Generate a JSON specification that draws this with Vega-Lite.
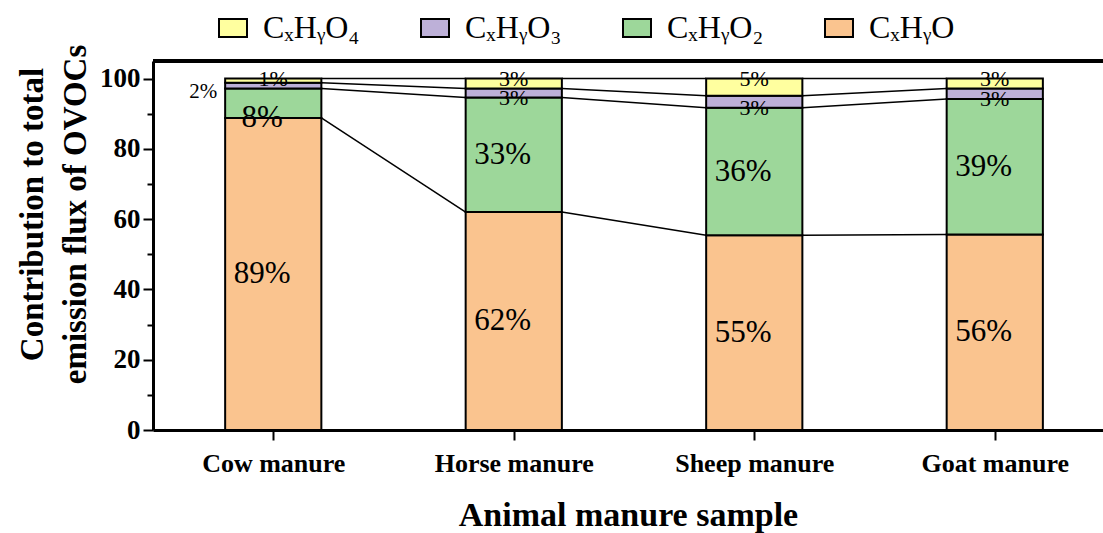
{
  "$schema": "https://vega.github.io/schema/vega-lite/v6.json",
  "width": 950,
  "height": 369,
  "autosize": {"type": "none"},
  "padding": {"left": 153, "top": 61, "right": 0, "bottom": 103},
  "background": "white",
  "config": {"view": {"stroke": null}, "font": "Liberation Serif"},
  "data": {
    "values": [
      {"sample": "Cow manure", "type": "CxHyO", "value": 88.8},
      {"sample": "Cow manure", "type": "CxHyO2", "value": 8.4},
      {"sample": "Cow manure", "type": "CxHyO3", "value": 1.6},
      {"sample": "Cow manure", "type": "CxHyO4", "value": 1.2},
      {"sample": "Horse manure", "type": "CxHyO", "value": 62.0},
      {"sample": "Horse manure", "type": "CxHyO2", "value": 32.6},
      {"sample": "Horse manure", "type": "CxHyO3", "value": 2.6},
      {"sample": "Horse manure", "type": "CxHyO4", "value": 2.8},
      {"sample": "Sheep manure", "type": "CxHyO", "value": 55.4},
      {"sample": "Sheep manure", "type": "CxHyO2", "value": 36.3},
      {"sample": "Sheep manure", "type": "CxHyO3", "value": 3.4},
      {"sample": "Sheep manure", "type": "CxHyO4", "value": 4.9},
      {"sample": "Goat manure", "type": "CxHyO", "value": 55.6},
      {"sample": "Goat manure", "type": "CxHyO2", "value": 38.6},
      {"sample": "Goat manure", "type": "CxHyO3", "value": 3.0},
      {"sample": "Goat manure", "type": "CxHyO4", "value": 2.8}
    ]
  },
  "transform": [
    {"calculate": "indexof(['Cow manure','Horse manure','Sheep manure','Goat manure'], datum.sample) + 1", "as": "pos"},
    {"calculate": "indexof(['CxHyO','CxHyO2','CxHyO3','CxHyO4'], datum.type)", "as": "order"},
    {"stack": "value", "groupby": ["sample"], "sort": [{"field": "order", "order": "ascending"}], "as": ["y0", "y1"]},
    {"calculate": "datum.pos - 0.2", "as": "xl"},
    {"calculate": "datum.pos + 0.2", "as": "xr"}
  ],
  "resolve": {"axis": {"y": "independent"}},
  "layer": [
    {
      "mark": {"type": "bar", "stroke": "black", "strokeWidth": 2},
      "encoding": {
        "x": {
          "field": "xl", "type": "quantitative",
          "scale": {"domain": [0.5, 4.45], "nice": false, "zero": false},
          "axis": {
            "values": [1, 2, 3, 4],
            "labelExpr": "['','Cow manure','Horse manure','Sheep manure','Goat manure'][datum.value]",
            "grid": false,
            "domainColor": "black", "domainWidth": 3,
            "tickColor": "black", "tickWidth": 2, "tickSize": 10,
            "labelFont": "Liberation Serif", "labelFontWeight": "bold", "labelFontSize": 26, "labelColor": "black",
            "labelPadding": 10,
            "title": "Animal manure sample",
            "titleFont": "Liberation Serif", "titleFontWeight": "bold", "titleFontSize": 34, "titleColor": "black",
            "titlePadding": 22
          }
        },
        "x2": {"field": "xr"},
        "y": {
          "field": "y0", "type": "quantitative",
          "scale": {"domain": [0, 105], "nice": false},
          "axis": {
            "orient": "left",
            "values": [0, 20, 40, 60, 80, 100],
            "grid": false,
            "domainColor": "black", "domainWidth": 3,
            "tickColor": "black", "tickWidth": 2, "tickSize": 10,
            "labelFont": "Liberation Serif", "labelFontWeight": "bold", "labelFontSize": 27, "labelColor": "black",
            "labelPadding": 3,
            "title": ["Contribution to total", "emission flux of OVOCs"],
            "titleFont": "Liberation Serif", "titleFontWeight": "bold", "titleFontSize": 33, "titleColor": "black",
            "titleLineHeight": 43,
            "titleAngle": -90,
            "titleAlign": "center",
            "titleBaseline": "middle",
            "titleX": -121,
            "titleY": 153
          }
        },
        "y2": {"field": "y1"},
        "color": {
          "field": "type", "type": "nominal",
          "scale": {
            "domain": ["CxHyO4", "CxHyO3", "CxHyO2", "CxHyO"],
            "range": ["#FFFF9F", "#BDB0D8", "#9DD79A", "#FAC48F"]
          },
          "legend": {
            "title": null,
            "orient": "none",
            "direction": "horizontal",
            "legendX": 64,
            "legendY": -49,
            "columns": 4,
            "gridAlign": "all",
            "columnPadding": 57,
            "symbolType": "M-1,-0.65H1V0.65H-1Z",
            "symbolSize": 784,
            "symbolStrokeColor": "black",
            "symbolStrokeWidth": 2,
            "symbolOpacity": 1,
            "labelOffset": 14,
            "labelFont": "Liberation Serif",
            "labelFontSize": 32,
            "labelColor": "black",
            "labelLimit": 300,
            "labelExpr": "{'CxHyO4':'CₓHᵧO₄','CxHyO3':'CₓHᵧO₃','CxHyO2':'CₓHᵧO₂','CxHyO':'CₓHᵧO'}[datum.value]"
          }
        }
      }
    },
    {
      "mark": {"type": "rule", "opacity": 0},
      "encoding": {
        "y": {
          "datum": 0, "type": "quantitative",
          "axis": {
            "orient": "left",
            "values": [10, 30, 50, 70, 90],
            "labels": false, "domain": false, "grid": false,
            "tickColor": "black", "tickWidth": 2, "tickSize": 6,
            "title": null
          }
        }
      }
    },
    {
      "mark": {"type": "rule", "color": "black", "strokeWidth": 3},
      "encoding": {"y": {"datum": 105, "type": "quantitative", "axis": null}}
    },
    {
      "transform": [
        {"window": [{"op": "lead", "field": "y1", "as": "ny1"}, {"op": "lead", "field": "pos", "as": "npos"}], "groupby": ["type"], "sort": [{"field": "pos", "order": "ascending"}], "frame": [null, null]},
        {"filter": "datum.npos != null"},
        {"calculate": "datum.npos - 0.2", "as": "nxl"}
      ],
      "mark": {"type": "rule", "color": "black", "strokeWidth": 1.5},
      "encoding": {
        "x": {"field": "xr", "type": "quantitative"},
        "x2": {"field": "nxl"},
        "y": {"field": "y1", "type": "quantitative", "axis": null},
        "y2": {"field": "ny1"}
      }
    },
    {
      "transform": [
        {"filter": "datum.value >= 8"},
        {"calculate": "(datum.y0 + datum.y1) / 2", "as": "ly"},
        {"calculate": "format(round(datum.value), 'd') + '%'", "as": "lab"},
        {"calculate": "datum.value < 10 ? datum.y0 : datum.ly", "as": "ly2"}
      ],
      "mark": {"type": "text", "font": "Liberation Serif", "fontSize": 31, "color": "black", "baseline": "middle", "align": "center", "dx": -11},
      "encoding": {
        "x": {"field": "pos", "type": "quantitative"},
        "y": {"field": "ly2", "type": "quantitative", "axis": null},
        "text": {"field": "lab"}
      }
    },
    {
      "transform": [
        {"filter": "datum.value < 8 && !(datum.sample == 'Cow manure' && datum.type == 'CxHyO3')"},
        {"calculate": "datum.type == 'CxHyO4' ? datum.y1 : datum.y0", "as": "ly"},
        {"calculate": "format(round(datum.value), 'd') + '%'", "as": "lab"}
      ],
      "mark": {"type": "text", "font": "Liberation Serif", "fontSize": 22, "color": "black", "baseline": "middle", "align": "center"},
      "encoding": {
        "x": {"field": "pos", "type": "quantitative"},
        "y": {"field": "ly", "type": "quantitative", "axis": null},
        "text": {"field": "lab"}
      }
    },
    {
      "transform": [
        {"filter": "datum.sample == 'Cow manure' && datum.type == 'CxHyO3'"},
        {"calculate": "format(round(datum.value), 'd') + '%'", "as": "lab"}
      ],
      "mark": {"type": "text", "font": "Liberation Serif", "fontSize": 21, "color": "black", "baseline": "middle", "align": "right", "dx": -8, "dy": 4},
      "encoding": {
        "x": {"field": "xl", "type": "quantitative"},
        "y": {"field": "y0", "type": "quantitative", "axis": null},
        "text": {"field": "lab"}
      }
    }
  ]
}
